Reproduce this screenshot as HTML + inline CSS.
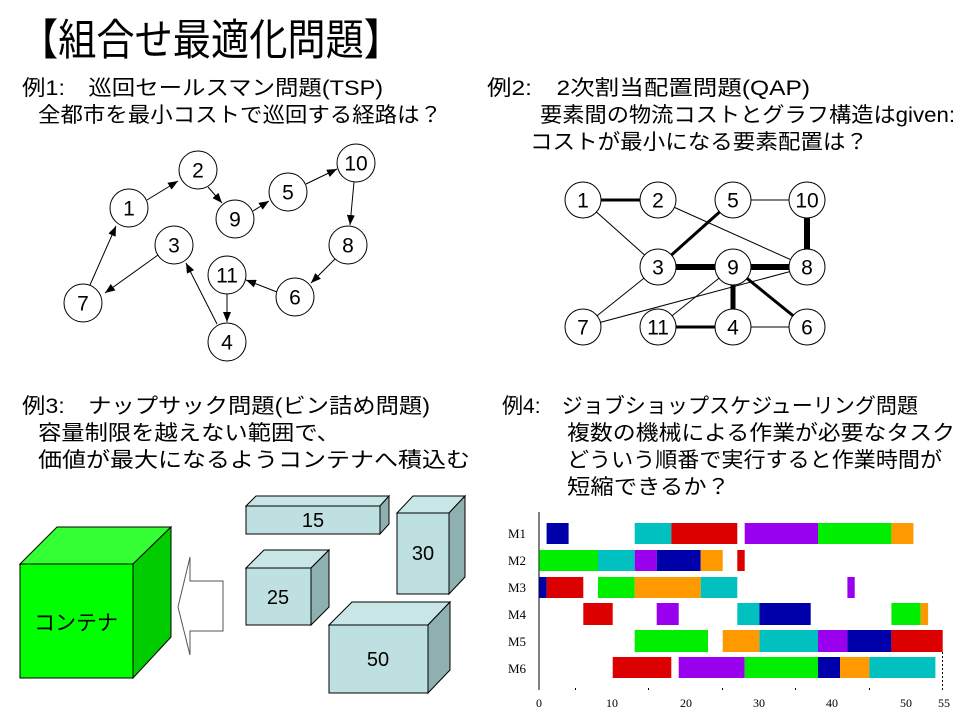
<!DOCTYPE html>
<html><head><meta charset="utf-8"><style>
html,body{margin:0;padding:0;background:#fff;}
svg{display:block;}
text{font-family:"Liberation Sans","Noto Sans CJK JP",sans-serif;fill:#000;}
.h{font-size:21px;}
.n{font-size:21px;text-anchor:middle;dominant-baseline:central;}
.g{font-family:"Liberation Serif",serif;font-size:13px;}
.a{font-family:"Liberation Serif",serif;font-size:12px;}
</style></head><body>
<svg width="960" height="720" viewBox="0 0 960 720" xmlns="http://www.w3.org/2000/svg">
<defs>
<marker id="ar" markerWidth="10" markerHeight="8" refX="10" refY="4" orient="auto" markerUnits="userSpaceOnUse"><path d="M0,0 L10,4 L0,8 z" fill="#000"/></marker>
</defs>
<text x="20" y="55" style="font-size:43px" textLength="382" lengthAdjust="spacingAndGlyphs">【組合せ最適化問題】</text>

<text class="h" x="22" y="95" textLength="361" lengthAdjust="spacingAndGlyphs">例1:　巡回セールスマン問題(TSP)</text>
<text class="h" x="38" y="122" textLength="404" lengthAdjust="spacingAndGlyphs">全都市を最小コストで巡回する経路は？</text>
<text class="h" x="487" y="95" textLength="323" lengthAdjust="spacingAndGlyphs">例2:　2次割当配置問題(QAP)</text>
<text class="h" x="540" y="122" textLength="415" lengthAdjust="spacingAndGlyphs">要素間の物流コストとグラフ構造はgiven:</text>
<text class="h" x="530" y="149" textLength="338" lengthAdjust="spacingAndGlyphs">コストが最小になる要素配置は？</text>
<text class="h" x="22" y="413" textLength="408" lengthAdjust="spacingAndGlyphs">例3:　ナップサック問題(ビン詰め問題)</text>
<text class="h" x="38" y="440" textLength="302" lengthAdjust="spacingAndGlyphs">容量制限を越えない範囲で、</text>
<text class="h" x="38" y="467" textLength="432" lengthAdjust="spacingAndGlyphs">価値が最大になるようコンテナへ積込む</text>
<text class="h" x="502" y="413" textLength="416" lengthAdjust="spacingAndGlyphs">例4:　ジョブショップスケジューリング問題</text>
<text class="h" x="567" y="440" textLength="388" lengthAdjust="spacingAndGlyphs">複数の機械による作業が必要なタスク</text>
<text class="h" x="567" y="467" textLength="375" lengthAdjust="spacingAndGlyphs">どういう順番で実行すると作業時間が</text>
<text class="h" x="567" y="494" textLength="163" lengthAdjust="spacingAndGlyphs">短縮できるか？</text>

<!-- TSP -->
<g stroke="#000" stroke-width="1" fill="none" marker-end="url(#ar)">
<line x1="90" y1="285" x2="116" y2="226"/>
<line x1="147" y1="200" x2="178" y2="181"/>
<line x1="208" y1="187" x2="222" y2="203"/>
<line x1="253" y1="211" x2="269" y2="201"/>
<line x1="306" y1="184" x2="337" y2="169"/>
<line x1="354" y1="182" x2="350" y2="225"/>
<line x1="336" y1="258" x2="311" y2="283"/>
<line x1="277" y1="292" x2="246" y2="280"/>
<line x1="227" y1="294" x2="227" y2="322"/>
<line x1="217" y1="324" x2="186" y2="263"/>
<line x1="158" y1="255" x2="105" y2="293"/>
</g>
<g fill="#fff" stroke="#000" stroke-width="1">
<circle cx="129" cy="208" r="19"/><circle cx="198" cy="170" r="19"/><circle cx="235" cy="219" r="19"/>
<circle cx="288" cy="192" r="19"/><circle cx="356" cy="163" r="19"/><circle cx="348" cy="245" r="19"/>
<circle cx="295" cy="297" r="19"/><circle cx="227" cy="275" r="19"/><circle cx="227" cy="342" r="19"/>
<circle cx="174" cy="245" r="19"/><circle cx="83" cy="303" r="19"/>
</g>
<g>
<text class="n" x="129" y="209">1</text><text class="n" x="198" y="171">2</text><text class="n" x="235" y="220">9</text>
<text class="n" x="288" y="193">5</text><text class="n" x="356" y="164">10</text><text class="n" x="348" y="246">8</text>
<text class="n" x="295" y="298">6</text><text class="n" x="227" y="276">11</text><text class="n" x="227" y="343">4</text>
<text class="n" x="174" y="246">3</text><text class="n" x="83" y="304">7</text>
</g>

<!-- QAP -->
<g stroke="#000">
<line x1="583" y1="200" x2="658" y2="200" stroke-width="3"/>
<line x1="733" y1="200" x2="807" y2="200" stroke-width="1"/>
<line x1="807" y1="200" x2="807" y2="267" stroke-width="6"/>
<line x1="583" y1="200" x2="658" y2="267" stroke-width="1"/>
<line x1="658" y1="200" x2="807" y2="267" stroke-width="1"/>
<line x1="733" y1="200" x2="658" y2="267" stroke-width="3"/>
<line x1="658" y1="267" x2="807" y2="267" stroke-width="6"/>
<line x1="658" y1="267" x2="583" y2="327" stroke-width="1"/>
<line x1="583" y1="327" x2="807" y2="267" stroke-width="1"/>
<line x1="733" y1="267" x2="658" y2="327" stroke-width="1"/>
<line x1="733" y1="267" x2="733" y2="327" stroke-width="5"/>
<line x1="733" y1="267" x2="807" y2="327" stroke-width="3"/>
<line x1="658" y1="327" x2="733" y2="327" stroke-width="3"/>
<line x1="733" y1="327" x2="807" y2="327" stroke-width="1"/>
</g>
<g fill="#fff" stroke="#000" stroke-width="1">
<circle cx="583" cy="200" r="18"/><circle cx="658" cy="200" r="18"/><circle cx="733" cy="200" r="18"/><circle cx="807" cy="200" r="18"/>
<circle cx="658" cy="267" r="18"/><circle cx="733" cy="267" r="18"/><circle cx="807" cy="267" r="18"/>
<circle cx="583" cy="327" r="18"/><circle cx="658" cy="327" r="18"/><circle cx="733" cy="327" r="18"/><circle cx="807" cy="327" r="18"/>
</g>
<g>
<text class="n" x="583" y="201">1</text><text class="n" x="658" y="201">2</text><text class="n" x="733" y="201">5</text><text class="n" x="807" y="201">10</text>
<text class="n" x="658" y="268">3</text><text class="n" x="733" y="268">9</text><text class="n" x="807" y="268">8</text>
<text class="n" x="583" y="328">7</text><text class="n" x="658" y="328">11</text><text class="n" x="733" y="328">4</text><text class="n" x="807" y="328">6</text>
</g>

<!-- Knapsack -->
<g stroke="#000" stroke-width="1">
<polygon points="20,564 57,527 171,527 133,564" fill="#33ff33"/>
<polygon points="133,564 171,527 171,637 133,678" fill="#00cc00"/>
<rect x="20" y="564" width="113" height="114" fill="#00ff00"/>
<polygon points="178,607 190,557 190,581 223,581 223,631 190,631 190,655" fill="#fff" stroke="#555"/>
<polygon points="246,506 256,496 389,496 380,506" fill="#c8e6e6"/>
<polygon points="380,506 389,496 389,524 380,534" fill="#8fb0b0"/>
<rect x="246" y="506" width="134" height="28" fill="#bfe0e0"/>
<polygon points="397,513 413,496 465,496 449,513" fill="#c8e6e6"/>
<polygon points="449,513 465,496 465,577 449,594" fill="#8fb0b0"/>
<rect x="397" y="513" width="52" height="81" fill="#bfe0e0"/>
<polygon points="246,568 264,550 329,550 311,568" fill="#c8e6e6"/>
<polygon points="311,568 329,550 329,607 311,625" fill="#8fb0b0"/>
<rect x="246" y="568" width="65" height="57" fill="#bfe0e0"/>
<polygon points="329,625 352,602 450,602 428,625" fill="#c8e6e6"/>
<polygon points="428,625 450,602 450,670 428,693" fill="#8fb0b0"/>
<rect x="329" y="625" width="99" height="68" fill="#bfe0e0"/>
</g>
<text x="76" y="630" style="font-size:21px" text-anchor="middle">コンテナ</text>
<text x="313" y="527" style="font-size:20px" text-anchor="middle">15</text>
<text x="423" y="560" style="font-size:20px" text-anchor="middle">30</text>
<text x="278" y="604" style="font-size:20px" text-anchor="middle">25</text>
<text x="378" y="666" style="font-size:20px" text-anchor="middle">50</text>

<!-- Gantt -->
<line x1="539" y1="512" x2="539" y2="690" stroke="#000" stroke-width="1"/>
<line x1="942.5" y1="652" x2="942.5" y2="690" stroke="#000" stroke-width="1" stroke-dasharray="2,2"/>
<text x="508" y="538" class="g">M1</text><text x="508" y="565" class="g">M2</text><text x="508" y="592" class="g">M3</text>
<text x="508" y="619" class="g">M4</text><text x="508" y="646" class="g">M5</text><text x="508" y="673" class="g">M6</text>
<text x="539" y="707" class="a" text-anchor="middle">0</text><text x="612" y="707" class="a" text-anchor="middle">10</text>
<text x="686" y="707" class="a" text-anchor="middle">20</text><text x="759" y="707" class="a" text-anchor="middle">30</text>
<text x="832" y="707" class="a" text-anchor="middle">40</text><text x="906" y="707" class="a" text-anchor="middle">50</text>
<text x="944" y="707" class="a" text-anchor="middle">55</text>
<g fill="#000"><rect x="575" y="688" width="1" height="2"/><rect x="648" y="688" width="1" height="2"/><rect x="722" y="688" width="1" height="2"/><rect x="795" y="688" width="1" height="2"/><rect x="869" y="688" width="1" height="2"/></g>
<g>
<rect x="546.6" y="523" width="22" height="21" fill="#0000aa"/>
<rect x="634.7" y="523" width="36.6" height="21" fill="#00c0c0"/>
<rect x="671.3" y="523" width="66" height="21" fill="#dd0000"/>
<rect x="744.7" y="523" width="73.3" height="21" fill="#9900ee"/>
<rect x="818" y="523" width="73.4" height="21" fill="#00ee00"/>
<rect x="891.4" y="523" width="22" height="21" fill="#ff9900"/>
<rect x="539.3" y="550" width="58.7" height="21" fill="#00ee00"/>
<rect x="598" y="550" width="36.7" height="21" fill="#00c0c0"/>
<rect x="634.7" y="550" width="22" height="21" fill="#9900ee"/>
<rect x="656.7" y="550" width="44" height="21" fill="#0000aa"/>
<rect x="700.7" y="550" width="22" height="21" fill="#ff9900"/>
<rect x="737.3" y="550" width="7.4" height="21" fill="#dd0000"/>
<rect x="539.3" y="577" width="7.3" height="21" fill="#0000aa"/>
<rect x="546.6" y="577" width="36.7" height="21" fill="#dd0000"/>
<rect x="598" y="577" width="36.7" height="21" fill="#00ee00"/>
<rect x="634.7" y="577" width="66" height="21" fill="#ff9900"/>
<rect x="700.7" y="577" width="36.6" height="21" fill="#00c0c0"/>
<rect x="847.4" y="577" width="7.3" height="21" fill="#9900ee"/>
<rect x="583.3" y="603" width="29.4" height="22" fill="#dd0000"/>
<rect x="656.7" y="603" width="22" height="22" fill="#9900ee"/>
<rect x="737.3" y="603" width="22.1" height="22" fill="#00c0c0"/>
<rect x="759.4" y="603" width="51.3" height="22" fill="#0000aa"/>
<rect x="891.4" y="603" width="29.3" height="22" fill="#00ee00"/>
<rect x="920.7" y="603" width="7.4" height="22" fill="#ff9900"/>
<rect x="634.7" y="630" width="73.3" height="22" fill="#00ee00"/>
<rect x="722.7" y="630" width="36.7" height="22" fill="#ff9900"/>
<rect x="759.4" y="630" width="58.6" height="22" fill="#00c0c0"/>
<rect x="818" y="630" width="29.4" height="22" fill="#9900ee"/>
<rect x="847.4" y="630" width="44" height="22" fill="#0000aa"/>
<rect x="891.4" y="630" width="51.3" height="22" fill="#dd0000"/>
<rect x="612.7" y="657" width="58.6" height="21" fill="#dd0000"/>
<rect x="678.7" y="657" width="66" height="21" fill="#9900ee"/>
<rect x="744.7" y="657" width="73.3" height="21" fill="#00ee00"/>
<rect x="818" y="657" width="22" height="21" fill="#0000aa"/>
<rect x="840" y="657" width="29.4" height="21" fill="#ff9900"/>
<rect x="869.4" y="657" width="66" height="21" fill="#00c0c0"/>
</g>
</svg>
</body></html>
